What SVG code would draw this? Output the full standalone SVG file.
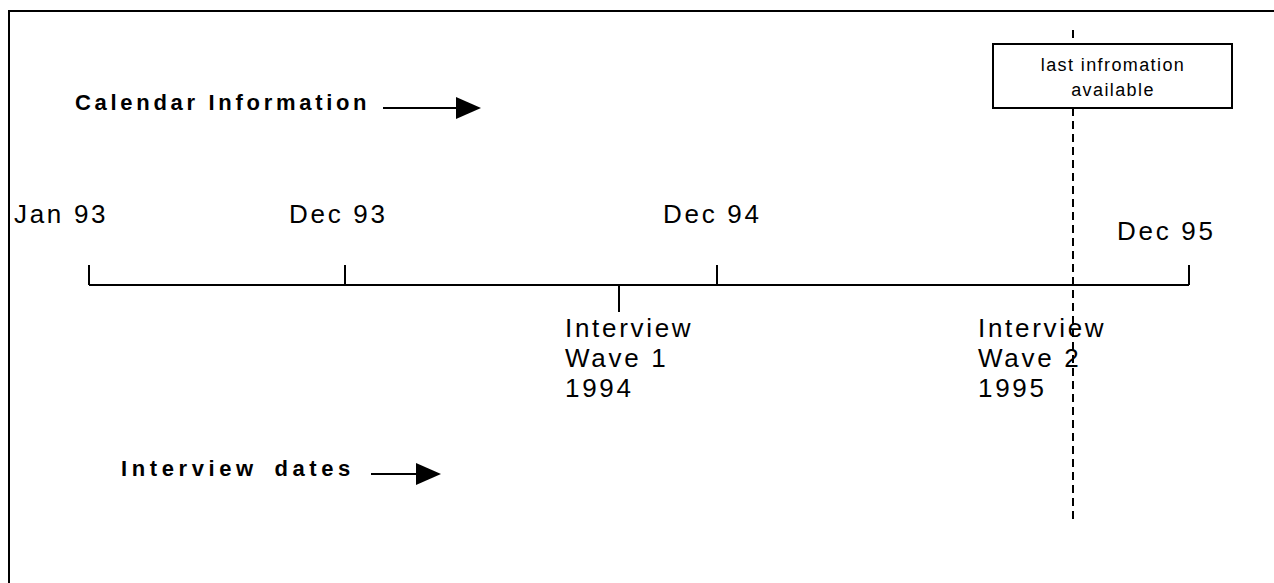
<svg xmlns="http://www.w3.org/2000/svg" width="1274" height="583" viewBox="0 0 1274 583">
<style>
.reg{font-family:"Liberation Sans",Arial,sans-serif;font-size:26px;letter-spacing:2.7px;fill:#000}
.bold{font-family:"Liberation Sans",Arial,sans-serif;font-size:22px;font-weight:bold;letter-spacing:3.7px;fill:#000}
.small{font-family:"Liberation Sans",Arial,sans-serif;font-size:18px;letter-spacing:1.4px;fill:#000}
.ln{stroke:#000;stroke-width:2;fill:none}
</style>
<rect width="1274" height="583" fill="#fff"/>
<path class="ln" d="M9,583 V11 H1274"/>
<g id="calendar-label">
<text class="bold" x="75" y="110">Calendar Information</text>
</g>
<g id="interview-label">
<text class="bold" x="121" y="476" style="letter-spacing:4.6px;word-spacing:6px">Interview dates</text>
</g>
<g id="timeline">
<path class="ln" d="M89,285 H1189 M89,265 V285 M345,265 V285 M717,265 V285 M1189,265 V285 M619,285 V312"/>
</g>
<g id="lbl-jan93"><text class="reg" x="14" y="223">Jan 93</text></g>
<g id="lbl-dec93"><text class="reg" x="289" y="223">Dec 93</text></g>
<g id="lbl-dec94"><text class="reg" x="663" y="223">Dec 94</text></g>
<g id="lbl-dec95"><text class="reg" x="1117" y="240">Dec 95</text></g>
<g id="wave1"><text class="reg"><tspan x="565" y="337">Interview</tspan><tspan x="565" y="367">Wave 1</tspan><tspan x="565" y="397">1994</tspan></text></g>
<g id="wave2"><text class="reg"><tspan x="978" y="337">Interview</tspan><tspan x="978" y="367">Wave 2</tspan><tspan x="978" y="397">1995</tspan></text></g>
<g id="connectors">
<path d="M1073,30 V522" stroke="#000" stroke-width="2" stroke-dasharray="8,5" fill="none"/>
<path d="M383,108 H456" stroke="#000" stroke-width="2" fill="none"/>
<path d="M456,97 L481,108 L456,119 Z" fill="#000"/>
<path d="M371,474 H416" stroke="#000" stroke-width="2" fill="none"/>
<path d="M416,463 L441,474 L416,485 Z" fill="#000"/>
</g>
<g id="last-info">
<rect x="993" y="44" width="239" height="64" fill="#fff" stroke="#000" stroke-width="2"/>
<text class="small" text-anchor="middle"><tspan x="1113" y="71">last infromation</tspan><tspan x="1113" y="96">available</tspan></text>
</g>
</svg>
